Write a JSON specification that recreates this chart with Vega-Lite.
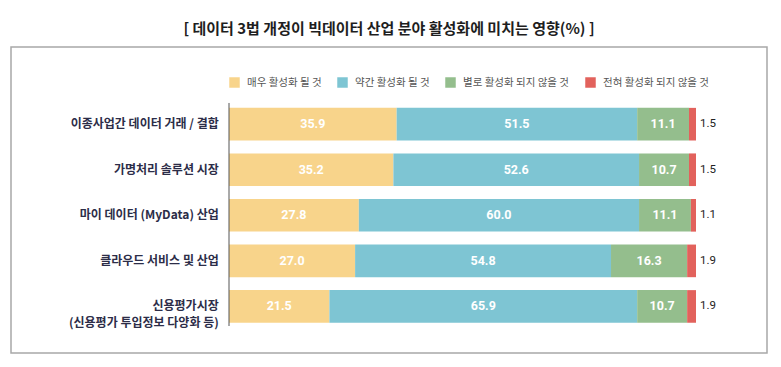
{
  "$schema": "https://vega.github.io/schema/vega-lite/v6.json",
  "autosize": {"type": "none"},
  "width": 756,
  "height": 306,
  "padding": {"left": 11, "top": 47, "right": 14, "bottom": 14},
  "background": "white",
  "title": {
    "text": "[ 데이터 3법 개정이 빅데이터 산업 분야 활성화에 미치는 영향(%) ]",
    "font": "Noto Sans CJK KR",
    "fontSize": 15,
    "fontWeight": "bold",
    "color": "#1e1e1e",
    "anchor": "middle",
    "offset": 10
  },
  "config": {
    "view": {"stroke": "#a8a8a8", "strokeWidth": 1.5},
    "font": "Noto Sans CJK KR"
  },
  "data": {
    "values": [
      {"item": "이종사업간 데이터 거래 / 결합", "type": "매우 활성화 될 것", "value": 35.9},
      {"item": "이종사업간 데이터 거래 / 결합", "type": "약간 활성화 될 것", "value": 51.5},
      {"item": "이종사업간 데이터 거래 / 결합", "type": "별로 활성화 되지 않을 것", "value": 11.1},
      {"item": "이종사업간 데이터 거래 / 결합", "type": "전혀 활성화 되지 않을 것", "value": 1.5},
      {"item": "가명처리 솔루션 시장", "type": "매우 활성화 될 것", "value": 35.2},
      {"item": "가명처리 솔루션 시장", "type": "약간 활성화 될 것", "value": 52.6},
      {"item": "가명처리 솔루션 시장", "type": "별로 활성화 되지 않을 것", "value": 10.7},
      {"item": "가명처리 솔루션 시장", "type": "전혀 활성화 되지 않을 것", "value": 1.5},
      {"item": "마이 데이터 (MyData) 산업", "type": "매우 활성화 될 것", "value": 27.8},
      {"item": "마이 데이터 (MyData) 산업", "type": "약간 활성화 될 것", "value": 60.0},
      {"item": "마이 데이터 (MyData) 산업", "type": "별로 활성화 되지 않을 것", "value": 11.1},
      {"item": "마이 데이터 (MyData) 산업", "type": "전혀 활성화 되지 않을 것", "value": 1.1},
      {"item": "클라우드 서비스 및 산업", "type": "매우 활성화 될 것", "value": 27.0},
      {"item": "클라우드 서비스 및 산업", "type": "약간 활성화 될 것", "value": 54.8},
      {"item": "클라우드 서비스 및 산업", "type": "별로 활성화 되지 않을 것", "value": 16.3},
      {"item": "클라우드 서비스 및 산업", "type": "전혀 활성화 되지 않을 것", "value": 1.9},
      {"item": "신용평가시장\n(신용평가 투입정보 다양화 등)", "type": "매우 활성화 될 것", "value": 21.5},
      {"item": "신용평가시장\n(신용평가 투입정보 다양화 등)", "type": "약간 활성화 될 것", "value": 65.9},
      {"item": "신용평가시장\n(신용평가 투입정보 다양화 등)", "type": "별로 활성화 되지 않을 것", "value": 10.7},
      {"item": "신용평가시장\n(신용평가 투입정보 다양화 등)", "type": "전혀 활성화 되지 않을 것", "value": 1.9}
    ]
  },
  "transform": [
    {"calculate": "indexof(['매우 활성화 될 것','약간 활성화 될 것','별로 활성화 되지 않을 것','전혀 활성화 되지 않을 것'], datum.type)", "as": "ord"},
    {"stack": "value", "groupby": ["item"], "sort": [{"field": "ord", "order": "ascending"}], "as": ["v0", "v1"]},
    {"calculate": "(datum.v0 + datum.v1) / 2", "as": "mid"}
  ],
  "encoding": {
    "y": {
      "field": "item",
      "type": "nominal",
      "sort": ["이종사업간 데이터 거래 / 결합", "가명처리 솔루션 시장", "마이 데이터 (MyData) 산업", "클라우드 서비스 및 산업", "신용평가시장\n(신용평가 투입정보 다양화 등)"],
      "scale": {"paddingInner": 0.284, "paddingOuter": 1.1755, "align": 0.668},
      "axis": null
    }
  },
  "layer": [
    {
      "mark": {"type": "bar", "cornerRadius": 0},
      "encoding": {
        "x": {"field": "v0", "type": "quantitative", "scale": {"domain": [-46.68, 115.2], "nice": false, "zero": false}, "axis": null},
        "x2": {"field": "v1"},
        "color": {
          "field": "type",
          "type": "nominal",
          "sort": ["매우 활성화 될 것", "약간 활성화 될 것", "별로 활성화 되지 않을 것", "전혀 활성화 되지 않을 것"],
          "scale": {
            "domain": ["매우 활성화 될 것", "약간 활성화 될 것", "별로 활성화 되지 않을 것", "전혀 활성화 되지 않을 것"],
            "range": ["#F8D48B", "#7EC5D3", "#94BE8D", "#E2625C"]
          },
          "legend": {
            "title": null,
            "orient": "none",
            "direction": "horizontal",
            "columns": 4,
            "legendX": 218,
            "legendY": 30,
            "padding": 0,
            "columnPadding": 15,
            "symbolType": "square",
            "symbolSize": 110,
            "symbolStrokeWidth": 0,
            "symbolOpacity": 1,
            "labelFont": "Noto Sans CJK KR",
            "labelFontSize": 10.5,
            "labelColor": "#555555",
            "labelOffset": 7
          }
        }
      }
    },
    {
      "transform": [{"filter": "datum.ord < 3"}],
      "mark": {"type": "text", "color": "white", "font": "Roboto", "fontSize": 12.5, "fontWeight": "bold", "baseline": "middle", "align": "center"},
      "encoding": {
        "x": {"field": "mid", "type": "quantitative"},
        "text": {"field": "value", "type": "quantitative", "format": ".1f"}
      }
    },
    {
      "transform": [{"filter": "datum.ord == 3"}],
      "mark": {"type": "text", "color": "#222222", "font": "Roboto", "fontSize": 11.5, "baseline": "middle", "align": "left", "dx": 4},
      "encoding": {
        "x": {"field": "v1", "type": "quantitative"},
        "text": {"field": "value", "type": "quantitative", "format": ".1f"}
      }
    },
    {
      "transform": [{"filter": "datum.ord == 0"}],
      "mark": {"type": "text", "color": "#2c2d48", "font": "Noto Sans CJK KR", "fontSize": 12, "fontWeight": "bold", "baseline": "middle", "align": "right", "lineBreak": "\n", "lineHeight": 17},
      "encoding": {
        "x": {"datum": -2.2, "type": "quantitative"},
        "text": {"field": "item"}
      }
    },
    {
      "data": {"values": [{"a": 1}]},
      "mark": {"type": "rule", "color": "#555555", "strokeWidth": 1},
      "encoding": {
        "x": {"datum": 0, "type": "quantitative"},
        "y": {"datum": "이종사업간 데이터 거래 / 결합", "type": "nominal", "bandPosition": -0.15},
        "y2": {"datum": "신용평가시장\n(신용평가 투입정보 다양화 등)", "bandPosition": 1.1}
      }
    }
  ]
}
